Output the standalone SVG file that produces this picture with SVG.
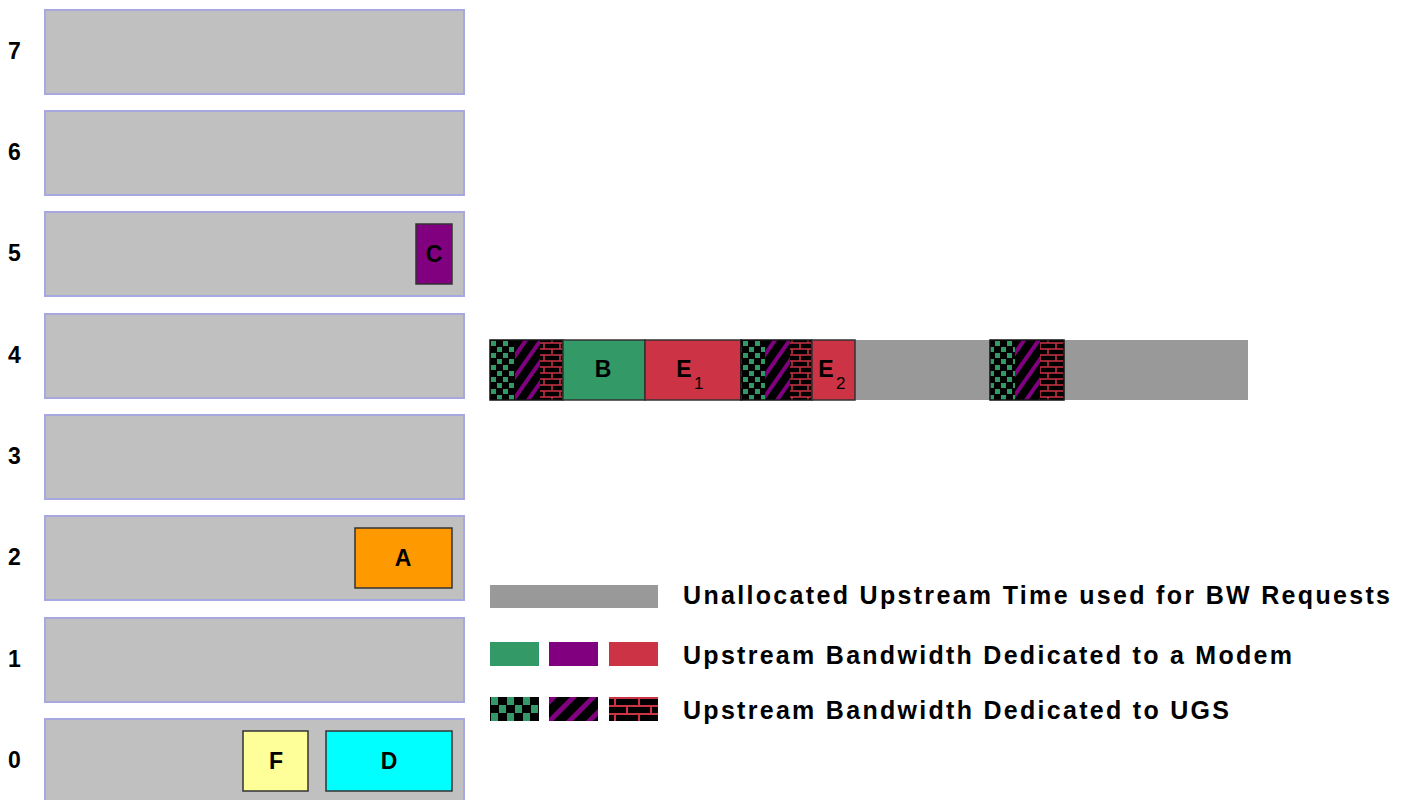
<svg xmlns="http://www.w3.org/2000/svg" width="1410" height="800" viewBox="0 0 1410 800">
<style>
.row{fill:#C0C0C0;stroke:#A8A8E0;stroke-width:2}
.lbl{font-family:"Liberation Sans",Arial,sans-serif;font-weight:bold;font-size:23px;fill:#000}
.box{font-family:"Liberation Sans",Arial,sans-serif;font-weight:bold;font-size:23px;fill:#000;text-anchor:middle}
.sub{font-family:"Liberation Sans",Arial,sans-serif;font-size:17px;fill:#000}
.leg{font-family:"Liberation Sans",Arial,sans-serif;font-weight:bold;font-size:25px;fill:#000}
.blk{stroke:#333;stroke-width:1.5}
</style>
<defs>
<pattern id="chk" patternUnits="userSpaceOnUse" width="12" height="12" x="490" y="340">
<rect width="12" height="12" fill="#000"/>
<rect x="1" y="1" width="5" height="5" fill="#339966"/>
<rect x="7" y="7" width="5" height="5" fill="#339966"/>
</pattern>
<pattern id="str" patternUnits="userSpaceOnUse" width="12" height="12" patternTransform="rotate(35)">
<rect width="12" height="12" fill="#000"/>
<rect x="0" y="0" width="4" height="12" fill="#800080"/>
</pattern>
<pattern id="brk" patternUnits="userSpaceOnUse" width="16" height="12" x="540" y="342">
<rect width="16" height="12" fill="#000"/>
<path d="M0 1H16M0 7H16M4 1V7M12 7V12" stroke="#CC3344" stroke-width="1.5" fill="none"/>
</pattern>
<pattern id="chkL" patternUnits="userSpaceOnUse" width="16" height="16" x="490" y="697">
<rect width="16" height="16" fill="#000"/>
<rect x="1" y="0" width="7" height="8" fill="#339966"/>
<rect x="9" y="8" width="7" height="8" fill="#339966"/>
</pattern>
<pattern id="strL" patternUnits="userSpaceOnUse" width="14" height="14" patternTransform="rotate(45)">
<rect width="14" height="14" fill="#000"/>
<rect x="0" y="0" width="5" height="14" fill="#800080"/>
</pattern>
<pattern id="brkL" patternUnits="userSpaceOnUse" width="24" height="16" x="609" y="697">
<rect width="24" height="16" fill="#000"/>
<path d="M0 1H24M0 9H24M6 1V9M18 9V16" stroke="#CC3344" stroke-width="2" fill="none"/>
</pattern>
</defs>

<g id="rows">
<g id="row7"><rect class="row" x="45" y="10" width="419" height="84"/><text class="lbl" x="8" y="59">7</text></g>
<g id="row6"><rect class="row" x="45" y="111" width="419" height="84"/><text class="lbl" x="8" y="160">6</text></g>
<g id="row5"><rect class="row" x="45" y="212" width="419" height="84"/><text class="lbl" x="8" y="261">5</text></g>
<g id="row4"><rect class="row" x="45" y="314" width="419" height="84"/><text class="lbl" x="8" y="363">4</text></g>
<g id="row3"><rect class="row" x="45" y="415" width="419" height="84"/><text class="lbl" x="8" y="464">3</text></g>
<g id="row2"><rect class="row" x="45" y="516" width="419" height="84"/><text class="lbl" x="8" y="565">2</text></g>
<g id="row1"><rect class="row" x="45" y="618" width="419" height="84"/><text class="lbl" x="8" y="667">1</text></g>
<g id="row0"><rect class="row" x="45" y="719" width="419" height="90"/><text class="lbl" x="8" y="768">0</text></g>
</g>

<g id="C"><rect class="blk" x="416" y="224" width="36" height="60" fill="#800080"/><text class="box" x="434" y="262">C</text></g>
<g id="A"><rect class="blk" x="355" y="528" width="97" height="60" fill="#FF9900"/><text class="box" x="403" y="566">A</text></g>
<g id="F"><rect class="blk" x="243" y="731" width="65" height="60" fill="#FFFF99"/><text class="box" x="276" y="769">F</text></g>
<g id="D"><rect class="blk" x="326" y="731" width="126" height="60" fill="#00FFFF"/><text class="box" x="389" y="769">D</text></g>

<g id="timeline">
<rect x="490" y="340" width="758" height="60" fill="#999999"/>
<rect x="490" y="340" width="25" height="60" fill="url(#chk)"/>
<rect x="515" y="340" width="25" height="60" fill="url(#str)"/>
<rect x="540" y="340" width="23" height="60" fill="url(#brk)"/>
<rect x="490" y="340" width="73" height="60" fill="none" stroke="#111" stroke-width="1.5"/>
<g id="B"><rect class="blk" x="563" y="340" width="82" height="60" fill="#339966"/><text class="box" x="603" y="377">B</text></g>
<g id="E1"><rect class="blk" x="645" y="340" width="96" height="60" fill="#CC3344"/><text class="box" x="684" y="377">E</text><text class="sub" x="694" y="389">1</text></g>
<rect x="741" y="340" width="24" height="60" fill="url(#chk)"/>
<rect x="765" y="340" width="25" height="60" fill="url(#str)"/>
<rect x="790" y="340" width="22" height="60" fill="url(#brk)"/>
<rect x="741" y="340" width="71" height="60" fill="none" stroke="#111" stroke-width="1.5"/>
<g id="E2"><rect class="blk" x="812" y="340" width="43" height="60" fill="#CC3344"/><text class="box" x="826" y="377">E</text><text class="sub" x="836" y="389">2</text></g>
<rect x="990" y="340" width="25" height="60" fill="url(#chk)"/>
<rect x="1015" y="340" width="25" height="60" fill="url(#str)"/>
<rect x="1040" y="340" width="24" height="60" fill="url(#brk)"/>
<rect x="990" y="340" width="74" height="60" fill="none" stroke="#111" stroke-width="1.5"/>
</g>

<g id="legend">
<rect x="490" y="585" width="168" height="23" fill="#999999"/>
<text class="leg" x="683" y="604" textLength="707" lengthAdjust="spacing">Unallocated Upstream Time used for BW Requests</text>
<rect x="490" y="642" width="49" height="24" fill="#339966"/>
<rect x="549" y="642" width="49" height="24" fill="#800080"/>
<rect x="609" y="642" width="49" height="24" fill="#CC3344"/>
<text class="leg" x="683" y="664" textLength="609" lengthAdjust="spacing">Upstream Bandwidth Dedicated to a Modem</text>
<rect x="490" y="697" width="49" height="24" fill="url(#chkL)"/>
<rect x="549" y="697" width="49" height="24" fill="url(#strL)"/>
<rect x="609" y="697" width="49" height="24" fill="url(#brkL)"/>
<text class="leg" x="683" y="719" textLength="546" lengthAdjust="spacing">Upstream Bandwidth Dedicated to UGS</text>
</g>
</svg>
